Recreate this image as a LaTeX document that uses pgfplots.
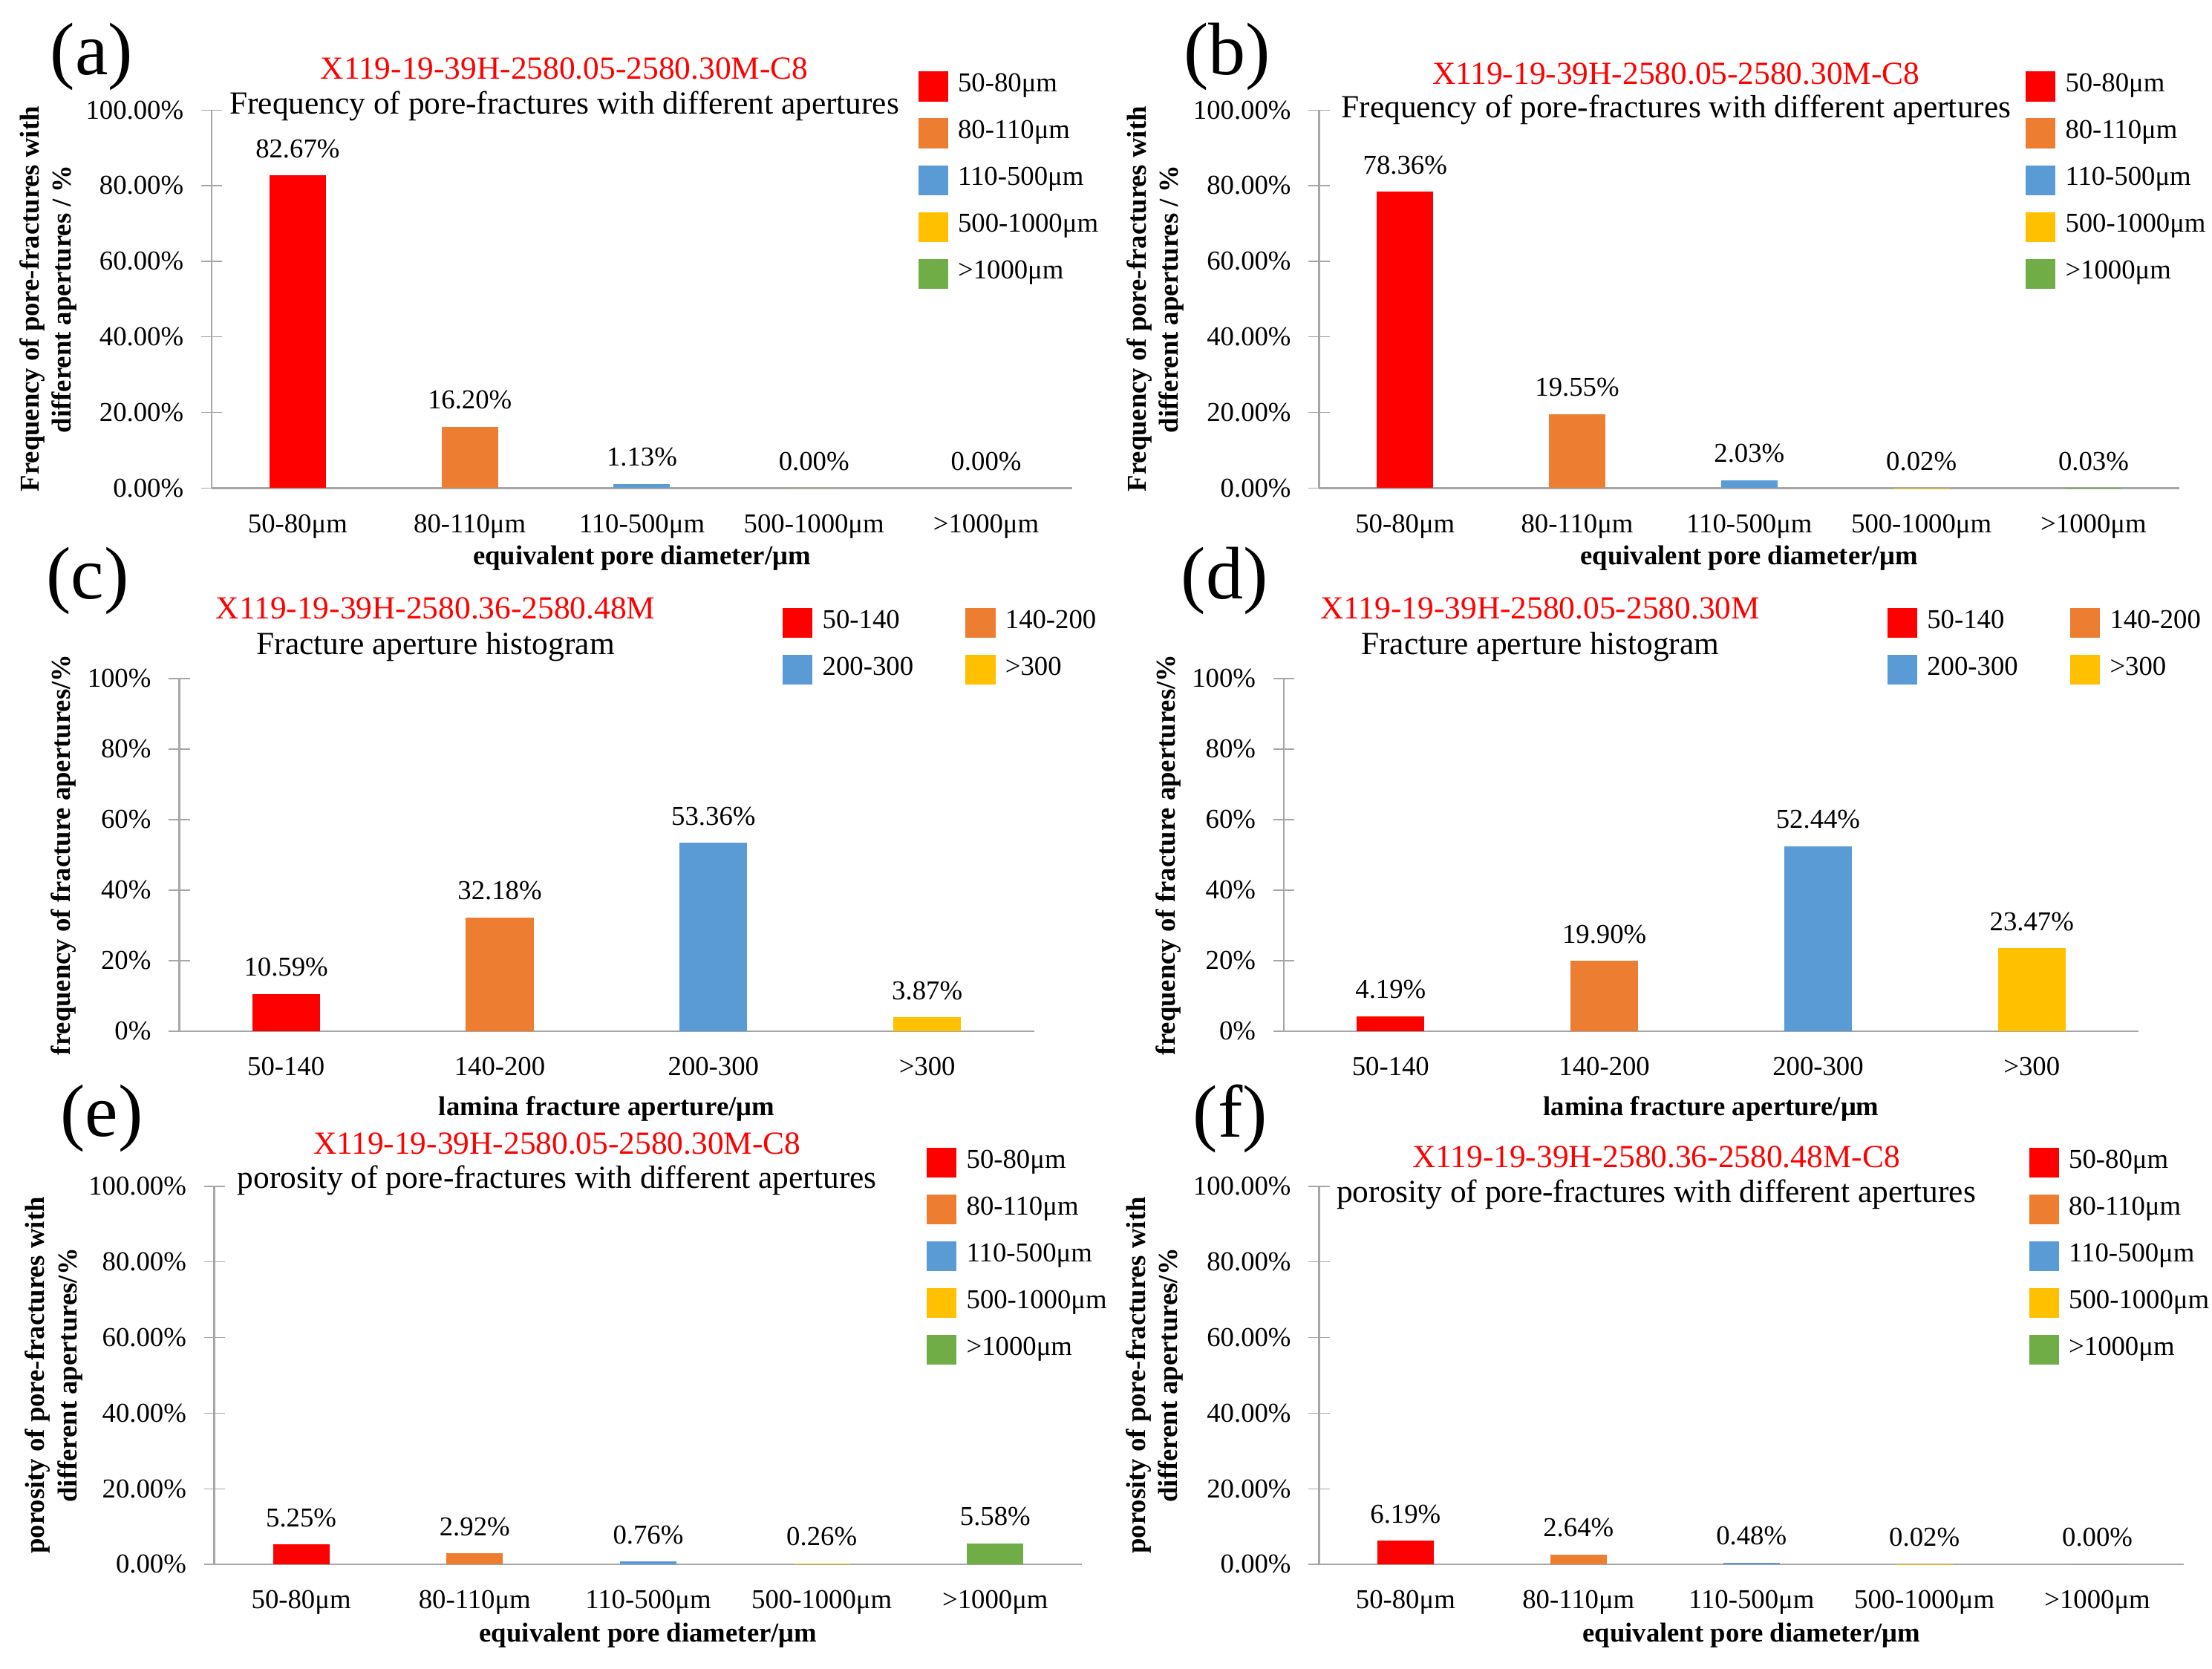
\documentclass[border=0pt]{standalone}
\usepackage{pgfplots}
\pgfplotsset{compat=1.18}
\usepackage{fontspec}
\setmainfont{Liberation Serif}
\definecolor{cR}{HTML}{FF0000}
\definecolor{cO}{HTML}{ED7D31}
\definecolor{cB}{HTML}{5B9BD5}
\definecolor{cY}{HTML}{FFC000}
\definecolor{cG}{HTML}{70AD47}
\pgfplotsset{
 sq/.style={fill=#1, draw=none, legend image code/.code={\fill[#1] (0pt,-3pt) rectangle (6pt,3pt);}},
 base/.style={scale only axis, clip=false, axis lines=left, axis line style={-,gray!70}, ymin=0,
  /pgf/number format/assume math mode=true,
  tick label style={font=\fontsize{5.5}{6}\selectfont},
  xticklabel style={yshift=2.5pt},
  label style={font=\bfseries\fontsize{5.5}{6.5}\selectfont},
  ylabel style={align=center, anchor=center},
  xlabel style={anchor=center},
  xtick style={draw=none}, ytick style={gray!70},
  minor xtick={0.5,1.5,2.5,3.5,4.5}, minor tick length=3pt,
  minor x tick style={gray!70},
  xtick pos=bottom, ytick pos=left,
  ybar, bar width=0.4cm, bar shift=0pt,
  nodes near coords={\pgfmathprintnumber[fixed,fixed zerofill,precision=2]{\pgfplotspointmeta}\%},
  every node near coord/.style={font=\fontsize{5.5}{6}\selectfont, black},
  legend style={draw=none, fill=none, inner sep=0pt, font=\fontsize{5.5}{6}\selectfont, row sep=0.01cm, anchor=north west, cells={anchor=west}},
 },
 five/.style={base, xmin=-0.5, xmax=4.5, ymax=100, width=6.1cm, height=2.68cm,
  xtick={0,1,2,3,4},
  ytick={0,20,40,60,80,100},
  yticklabels={0.00\%,20.00\%,40.00\%,60.00\%,80.00\%,100.00\%},
  xticklabels={50-80μm,80-110μm,110-500μm,500-1000μm,>1000μm},
  xlabel={equivalent pore diameter/μm},
  legend style={at={(rel axis cs:0.82,1.125)}}},
 four/.style={base, xmin=-0.5, xmax=3.5, ymax=100, width=6.06cm, height=2.5cm, bar width=0.48cm,
  xtick={0,1,2,3}, minor xtick={0.5,1.5,2.5,3.5},
  ytick={0,20,40,60,80,100},
  yticklabels={0\%,20\%,40\%,60\%,80\%,100\%},
  xticklabels={50-140,140-200,200-300,>300},
  xlabel={lamina fracture aperture/μm},
  xlabel style={at={(rel axis cs:0.5,-0.22)}},
  ylabel={frequency of fracture apertures/\%},
  ylabel style={at={(rel axis cs:-0.135,0.5)}},
  legend columns=2, legend style={at={(rel axis cs:0.705,1.225)}, /tikz/every even column/.append style={column sep=0.3cm}}},
}
\newcommand{\red}[1]{\textcolor{red}{\fontsize{6.5}{7}\selectfont #1}}
\newcommand{\blk}[1]{{\fontsize{6.5}{7}\selectfont #1}}
\newcommand{\plet}[1]{{\fontsize{15}{15}\selectfont #1}}
\begin{document}
\begin{tikzpicture}
\useasboundingbox (0,0) rectangle (15.68,-11.83);
\node at (0.65,-0.40) {\plet{(a)}};
\node at (8.70,-0.40) {\plet{(b)}};
\node at (0.62,-4.12) {\plet{(c)}};
\node at (8.68,-4.12) {\plet{(d)}};
\node at (0.72,-7.93) {\plet{(e)}};
\node at (8.72,-7.93) {\plet{(f)}};
% (a)
\begin{axis}[five, at={(1.50cm,-3.46cm)},
 ylabel={Frequency of pore-fractures with\\different apertures / \%},
 ylabel style={at={(rel axis cs:-0.19,0.5)}}, xlabel style={at={(rel axis cs:0.5,-0.185)}}]
\addplot[sq=cR] coordinates {(0,82.67)};
\addplot[sq=cO] coordinates {(1,16.20)};
\addplot[sq=cB] coordinates {(2,1.13)};
\addplot[sq=cY] coordinates {(3,0.00)};
\addplot[sq=cG] coordinates {(4,0.00)};
\legend{50-80μm,80-110μm,110-500μm,500-1000μm,>1000μm}
\node at (rel axis cs:0.41,1.11) {\red{X119-19-39H-2580.05-2580.30M-C8}};
\node at (rel axis cs:0.41,1.01) {\blk{Frequency of pore-fractures with different apertures}};
\end{axis}
% (b)
\begin{axis}[five, at={(9.35cm,-3.46cm)},
 ylabel={Frequency of pore-fractures with\\different apertures / \%},
 ylabel style={at={(rel axis cs:-0.19,0.5)}}, xlabel style={at={(rel axis cs:0.5,-0.185)}}]
\addplot[sq=cR] coordinates {(0,78.36)};
\addplot[sq=cO] coordinates {(1,19.55)};
\addplot[sq=cB] coordinates {(2,2.03)};
\addplot[sq=cY] coordinates {(3,0.02)};
\addplot[sq=cG] coordinates {(4,0.03)};
\legend{50-80μm,80-110μm,110-500μm,500-1000μm,>1000μm}
\node at (rel axis cs:0.415,1.095) {\red{X119-19-39H-2580.05-2580.30M-C8}};
\node at (rel axis cs:0.415,1.0) {\blk{Frequency of pore-fractures with different apertures}};
\end{axis}
% (c)
\begin{axis}[four, at={(1.27cm,-7.31cm)}]
\addplot[sq=cR] coordinates {(0,10.59)};
\addplot[sq=cO] coordinates {(1,32.18)};
\addplot[sq=cB] coordinates {(2,53.36)};
\addplot[sq=cY] coordinates {(3,3.87)};
\legend{50-140,140-200,200-300,>300}
\node at (rel axis cs:0.30,1.2) {\red{X119-19-39H-2580.36-2580.48M}};
\node at (rel axis cs:0.30,1.09) {\blk{Fracture aperture histogram}};
\end{axis}
% (d)
\begin{axis}[four, at={(9.10cm,-7.31cm)}]
\addplot[sq=cR] coordinates {(0,4.19)};
\addplot[sq=cO] coordinates {(1,19.90)};
\addplot[sq=cB] coordinates {(2,52.44)};
\addplot[sq=cY] coordinates {(3,23.47)};
\legend{50-140,140-200,200-300,>300}
\node at (rel axis cs:0.30,1.2) {\red{X119-19-39H-2580.05-2580.30M}};
\node at (rel axis cs:0.30,1.09) {\blk{Fracture aperture histogram}};
\end{axis}
% (e)
\begin{axis}[five, at={(1.52cm,-11.09cm)}, width=6.15cm,
 ylabel={porosity of pore-fractures with\\different apertures/\%},
 ylabel style={at={(rel axis cs:-0.185,0.5)}}, xlabel style={at={(rel axis cs:0.5,-0.188)}}]
\addplot[sq=cR] coordinates {(0,5.25)};
\addplot[sq=cO] coordinates {(1,2.92)};
\addplot[sq=cB] coordinates {(2,0.76)};
\addplot[sq=cY] coordinates {(3,0.26)};
\addplot[sq=cG] coordinates {(4,5.58)};
\legend{50-80μm,80-110μm,110-500μm,500-1000μm,>1000μm}
\node at (rel axis cs:0.395,1.112) {\red{X119-19-39H-2580.05-2580.30M-C8}};
\node at (rel axis cs:0.395,1.015) {\blk{porosity of pore-fractures with different apertures}};
\end{axis}
% (f)
\begin{axis}[five, at={(9.35cm,-11.09cm)}, width=6.13cm,
 ylabel={porosity of pore-fractures with\\different apertures/\%},
 ylabel style={at={(rel axis cs:-0.19,0.5)}}, xlabel style={at={(rel axis cs:0.5,-0.188)}}]
\addplot[sq=cR] coordinates {(0,6.19)};
\addplot[sq=cO] coordinates {(1,2.64)};
\addplot[sq=cB] coordinates {(2,0.48)};
\addplot[sq=cY] coordinates {(3,0.02)};
\addplot[sq=cG] coordinates {(4,0.00)};
\legend{50-80μm,80-110μm,110-500μm,500-1000μm,>1000μm}
\node at (rel axis cs:0.39,1.078) {\red{X119-19-39H-2580.36-2580.48M-C8}};
\node at (rel axis cs:0.39,0.978) {\blk{porosity of pore-fractures with different apertures}};
\end{axis}
\end{tikzpicture}
\end{document}
